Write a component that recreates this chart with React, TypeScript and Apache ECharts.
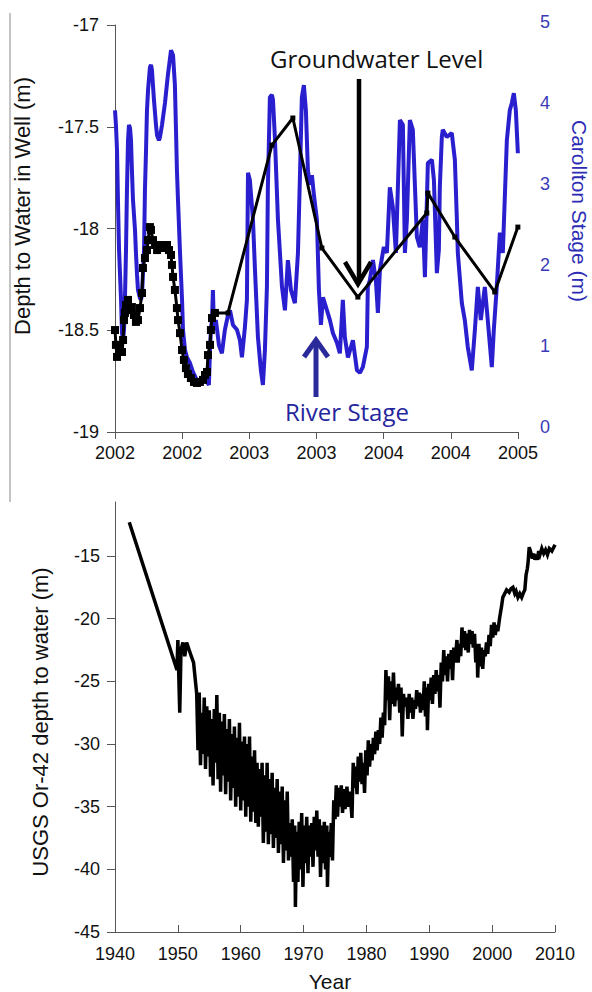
import React, { useEffect, useRef } from 'react';
import * as echarts from 'echarts';

const FONT = '"Liberation Sans", Arial, sans-serif';
const NOTE_FONT = '"Open Sans", "Noto Sans", sans-serif';

// Top panel tick labels (half-year ticks)
const TOP_X_LABELS = ['2002', '2002', '2003', '2003', '2004', '2004', '2005'];

// Carollton river stage (m) [year, stage]
const RIVER_STAGE: [number, number][] = [
  [2002.0, 3.91], [2002.007, 3.73], [2002.015, 3.42], [2002.022, 2.8], [2002.03, 2.19], [2002.045, 1.57],
  [2002.052, 1.16], [2002.06, 1.07], [2002.067, 1.2], [2002.074, 1.57], [2002.082, 2.19], [2002.089, 2.93],
  [2002.097, 3.54], [2002.104, 3.73], [2002.112, 3.69], [2002.119, 3.54], [2002.126, 3.17], [2002.134, 2.8],
  [2002.149, 2.43], [2002.156, 2.15], [2002.164, 1.88], [2002.171, 1.69], [2002.186, 1.59], [2002.193, 1.57],
  [2002.201, 1.63], [2002.208, 1.88], [2002.216, 2.19], [2002.223, 2.93], [2002.231, 3.42], [2002.238, 3.91],
  [2002.246, 4.16], [2002.26, 4.44], [2002.268, 4.47], [2002.275, 4.41], [2002.29, 4.04], [2002.305, 3.73],
  [2002.313, 3.6], [2002.327, 3.54], [2002.335, 3.58], [2002.35, 3.73], [2002.372, 4.0], [2002.394, 4.35],
  [2002.417, 4.65], [2002.432, 4.59], [2002.446, 4.22], [2002.454, 3.67], [2002.461, 3.17], [2002.469, 2.8],
  [2002.484, 2.15], [2002.499, 1.57], [2002.506, 1.2], [2002.521, 0.95], [2002.536, 0.86], [2002.558, 0.79],
  [2002.58, 0.68], [2002.603, 0.6], [2002.618, 0.54], [2002.64, 0.57], [2002.662, 0.6], [2002.685, 0.56],
  [2002.699, 0.52], [2002.707, 0.95], [2002.714, 1.2], [2002.722, 1.32], [2002.729, 1.69], [2002.737, 1.2],
  [2002.751, 1.32], [2002.774, 1.01], [2002.796, 0.91], [2002.818, 1.2], [2002.841, 1.38], [2002.856, 1.44],
  [2002.878, 1.26], [2002.908, 1.2], [2002.93, 1.07], [2002.945, 0.86], [2002.967, 1.23], [2002.982, 1.57],
  [2002.99, 3.14], [2003.004, 3.05], [2003.027, 2.56], [2003.042, 1.94], [2003.064, 1.11], [2003.086, 0.7],
  [2003.101, 0.52], [2003.116, 0.95], [2003.131, 1.73], [2003.138, 2.96], [2003.153, 4.07], [2003.168, 4.1],
  [2003.176, 4.04], [2003.19, 3.58], [2003.213, 2.56], [2003.243, 1.73], [2003.265, 1.44], [2003.287, 2.06],
  [2003.31, 1.69], [2003.339, 1.53], [2003.362, 2.15], [2003.376, 3.05], [2003.391, 4.07], [2003.406, 4.22],
  [2003.421, 3.91], [2003.436, 3.17], [2003.451, 2.99], [2003.466, 3.11], [2003.481, 2.86], [2003.503, 2.56],
  [2003.518, 1.69], [2003.533, 1.26], [2003.548, 1.6], [2003.578, 1.44], [2003.6, 1.32], [2003.622, 1.16],
  [2003.652, 1.04], [2003.674, 0.91], [2003.696, 1.57], [2003.711, 1.11], [2003.734, 0.86], [2003.771, 1.07],
  [2003.801, 0.7], [2003.823, 0.67], [2003.845, 0.74], [2003.875, 0.99], [2003.882, 1.73], [2003.897, 1.81],
  [2003.92, 2.06], [2003.942, 1.81], [2003.957, 1.41], [2003.972, 1.94], [2004.001, 2.22], [2004.024, 2.15],
  [2004.046, 2.96], [2004.068, 2.72], [2004.091, 2.15], [2004.121, 3.79], [2004.143, 3.73], [2004.158, 2.15],
  [2004.173, 2.56], [2004.195, 3.79], [2004.217, 3.67], [2004.247, 2.35], [2004.269, 2.22], [2004.292, 2.56],
  [2004.307, 1.85], [2004.329, 3.26], [2004.359, 3.3], [2004.374, 3.05], [2004.396, 1.9], [2004.411, 2.19],
  [2004.418, 2.96], [2004.433, 3.58], [2004.44, 3.67], [2004.47, 3.58], [2004.507, 3.63], [2004.53, 3.3],
  [2004.545, 2.56], [2004.552, 2.15], [2004.582, 1.53], [2004.604, 1.32], [2004.626, 0.99], [2004.656, 0.7],
  [2004.679, 1.2], [2004.701, 1.73], [2004.723, 1.32], [2004.753, 1.73], [2004.775, 1.32], [2004.805, 0.74],
  [2004.82, 1.2], [2004.842, 1.73], [2004.865, 2.4], [2004.887, 2.15], [2004.917, 3.54], [2004.939, 3.91],
  [2004.954, 4.0], [2004.969, 4.12], [2004.984, 3.91], [2004.999, 3.38],
];

// Groundwater depth, frequent record (m)
const GW_FREQUENT: [number, number][] = [
  [2002.0, -18.499], [2002.007, -18.572], [2002.015, -18.631], [2002.03, -18.597], [2002.037, -18.572],
  [2002.052, -18.607], [2002.06, -18.548], [2002.067, -18.45], [2002.074, -18.415], [2002.082, -18.376],
  [2002.097, -18.351], [2002.112, -18.401], [2002.126, -18.386], [2002.141, -18.425], [2002.156, -18.459],
  [2002.171, -18.45], [2002.186, -18.391], [2002.201, -18.317], [2002.208, -18.194], [2002.223, -18.145],
  [2002.238, -18.106], [2002.246, -18.057], [2002.26, -17.993], [2002.268, -18.007], [2002.283, -18.057],
  [2002.298, -18.081], [2002.313, -18.106], [2002.327, -18.091], [2002.342, -18.081], [2002.357, -18.081],
  [2002.372, -18.096], [2002.387, -18.081], [2002.402, -18.106], [2002.417, -18.13], [2002.424, -18.179],
  [2002.432, -18.238], [2002.446, -18.302], [2002.461, -18.391], [2002.469, -18.45], [2002.484, -18.514],
  [2002.499, -18.597], [2002.513, -18.646], [2002.528, -18.686], [2002.543, -18.715], [2002.565, -18.735],
  [2002.588, -18.754], [2002.61, -18.759], [2002.632, -18.754], [2002.655, -18.744], [2002.67, -18.72],
  [2002.685, -18.705], [2002.692, -18.622], [2002.707, -18.572], [2002.714, -18.499], [2002.722, -18.44],
  [2002.744, -18.415],
];

// Groundwater depth, occasional measurements (m)
const GW_SURVEY: [number, number][] = [
  [2002.744, -18.415], [2002.841, -18.415], [2003.168, -17.59], [2003.324, -17.457], [2003.54, -18.096],
  [2003.808, -18.337], [2004.321, -17.924], [2004.329, -17.826], [2004.53, -18.042], [2004.827, -18.312],
  [2004.999, -17.993],
];

// USGS Or-42 depth to water (m), early record
const OR42_EARLY: [number, number][] = [
  [1942.27, -12.3], [1949.86, -24.1], [1950.0, -21.7], [1950.3, -27.5], [1950.5, -22.5], [1950.8, -21.9],
  [1951.1, -23.0], [1951.4, -21.9], [1952.0, -22.8], [1952.5, -23.5], [1952.8, -25.0],
];

// USGS Or-42, 1953-1975 decline
const OR42_DECLINE: [number, number][] = [
  [1953.0, -26.0], [1953.2, -30.5], [1953.4, -25.9], [1953.6, -31.7], [1953.8, -27.5], [1954.0, -30.8],
  [1954.2, -26.3], [1954.4, -32.0], [1954.6, -27.0], [1954.8, -31.0], [1955.0, -27.3], [1955.2, -32.6],
  [1955.4, -28.0], [1955.6, -33.3], [1955.8, -27.2], [1956.0, -31.5], [1956.2, -26.1], [1956.4, -32.8],
  [1956.6, -27.5], [1956.8, -33.8], [1957.0, -28.2], [1957.2, -32.5], [1957.4, -27.6], [1957.6, -34.0],
  [1957.8, -28.8], [1958.0, -33.0], [1958.2, -28.0], [1958.4, -34.5], [1958.6, -29.2], [1958.8, -33.5],
  [1959.0, -28.6], [1959.2, -35.0], [1959.4, -29.5], [1959.6, -34.2], [1959.8, -28.3], [1960.0, -35.3],
  [1960.2, -29.8], [1960.4, -34.5], [1960.6, -29.4], [1960.8, -35.8], [1961.0, -30.0], [1961.2, -35.0],
  [1961.4, -29.4], [1961.6, -36.2], [1961.8, -31.0], [1962.0, -35.4], [1962.2, -30.5], [1962.4, -36.3],
  [1962.6, -31.5], [1962.8, -36.6], [1963.0, -32.0], [1963.2, -35.8], [1963.4, -31.5], [1963.6, -37.9],
  [1963.8, -32.5], [1964.0, -37.0], [1964.2, -31.5], [1964.4, -38.0], [1964.6, -32.8], [1964.8, -37.2],
  [1965.0, -32.3], [1965.2, -38.3], [1965.4, -33.5], [1965.6, -37.5], [1965.8, -32.8], [1966.0, -38.7],
  [1966.2, -33.8], [1966.4, -38.0], [1966.6, -33.4], [1966.8, -39.5], [1967.0, -34.5], [1967.2, -38.5],
  [1967.4, -33.8], [1967.6, -39.3], [1967.8, -36.3], [1968.0, -39.0], [1968.2, -36.0], [1968.4, -41.0],
  [1968.6, -36.5], [1968.7, -43.0], [1968.9, -37.0], [1969.1, -41.0], [1969.3, -36.2], [1969.5, -40.0],
  [1969.7, -35.5], [1969.9, -41.4], [1970.1, -36.5], [1970.3, -39.5], [1970.5, -35.8], [1970.7, -40.3],
  [1970.9, -36.5], [1971.1, -39.0], [1971.3, -36.3], [1971.5, -39.8], [1971.7, -35.8], [1971.9, -38.5],
  [1972.1, -35.3], [1972.3, -39.0], [1972.5, -36.0], [1972.7, -40.6], [1972.9, -36.5], [1973.1, -39.5],
  [1973.3, -36.2], [1973.5, -40.0], [1973.7, -36.5], [1973.8, -41.4], [1974.0, -37.0], [1974.2, -39.0],
  [1974.4, -36.3], [1974.6, -39.3], [1974.8, -34.5], [1975.0, -36.0],
];

// USGS Or-42, 1975-2010 recovery
const OR42_RECOVERY: [number, number][] = [
  [1975.2, -33.3], [1975.4, -35.8], [1975.6, -33.5], [1975.8, -35.0], [1976.0, -33.3], [1976.2, -35.5],
  [1976.4, -33.6], [1976.6, -35.2], [1976.9, -33.4], [1977.1, -35.0], [1977.4, -33.8], [1977.7, -35.9],
  [1977.9, -31.5], [1978.1, -33.5], [1978.3, -31.8], [1978.5, -34.0], [1978.7, -31.0], [1978.9, -33.0],
  [1979.1, -30.7], [1979.3, -33.2], [1979.5, -31.5], [1979.7, -33.9], [1979.9, -30.5], [1980.1, -32.5],
  [1980.3, -29.7], [1980.5, -31.8], [1980.7, -30.0], [1980.9, -31.3], [1981.1, -29.5], [1981.3, -30.8],
  [1981.5, -29.0], [1981.7, -30.5], [1981.9, -28.9], [1982.1, -30.0], [1982.3, -27.9], [1982.5, -29.5],
  [1982.7, -27.5], [1982.9, -28.5], [1983.1, -24.1], [1983.3, -26.5], [1983.5, -24.6], [1983.7, -28.1],
  [1983.9, -25.0], [1984.1, -26.8], [1984.3, -24.3], [1984.5, -27.0], [1984.7, -25.5], [1984.9, -26.5],
  [1985.1, -25.2], [1985.3, -27.5], [1985.5, -25.5], [1985.7, -29.4], [1985.9, -26.0], [1986.1, -27.0],
  [1986.4, -26.3], [1986.6, -28.0], [1986.8, -26.0], [1987.0, -27.5], [1987.2, -26.3], [1987.4, -28.0],
  [1987.6, -26.5], [1987.8, -27.2], [1988.0, -25.7], [1988.2, -27.0], [1988.4, -25.9], [1988.6, -27.5],
  [1988.8, -26.0], [1989.0, -27.3], [1989.2, -25.0], [1989.4, -27.8], [1989.6, -25.5], [1989.7, -28.9],
  [1989.9, -25.2], [1990.1, -26.5], [1990.3, -24.7], [1990.5, -26.8], [1990.7, -24.5], [1990.9, -26.0],
  [1991.1, -24.1], [1991.3, -25.8], [1991.5, -24.5], [1991.7, -27.1], [1991.9, -23.5], [1992.1, -25.0],
  [1992.3, -22.5], [1992.5, -24.5], [1992.7, -23.0], [1992.9, -25.0], [1993.1, -22.8], [1993.3, -24.0],
  [1993.5, -22.5], [1993.7, -24.9], [1993.9, -22.3], [1994.1, -23.5], [1994.4, -21.7], [1994.6, -23.5],
  [1994.8, -22.0], [1995.0, -23.0], [1995.2, -20.7], [1995.4, -22.3], [1995.6, -21.0], [1995.8, -22.5],
  [1996.0, -21.2], [1996.2, -22.7], [1996.4, -20.9], [1996.6, -22.0], [1996.8, -21.0], [1997.0, -22.3],
  [1997.2, -21.2], [1997.4, -23.5], [1997.6, -22.0], [1997.7, -24.7], [1997.9, -22.0], [1998.1, -23.8],
  [1998.3, -22.3], [1998.5, -24.0], [1998.7, -22.5], [1998.9, -23.0], [1999.1, -21.9], [1999.3, -22.8],
  [1999.5, -21.3], [1999.7, -22.2], [1999.9, -20.5], [2000.1, -21.5], [2000.3, -20.3], [2000.5, -21.3],
  [2000.7, -20.5], [2000.9, -21.0], [2001.2, -19.9], [2001.5, -19.0], [2001.7, -18.3], [2002.0, -18.0],
  [2002.3, -17.7], [2002.7, -17.9], [2003.0, -17.6], [2003.3, -17.5], [2003.6, -18.0], [2003.8, -17.8],
  [2004.1, -18.3], [2004.4, -18.0], [2004.7, -18.3], [2005.0, -17.9], [2005.2, -17.7], [2005.4, -16.5],
  [2005.6, -16.0], [2005.7, -15.6], [2005.9, -14.3], [2006.0, -14.3], [2006.2, -14.8], [2006.4, -15.2],
  [2006.6, -14.8], [2006.8, -15.3], [2007.0, -14.9], [2007.2, -15.3], [2007.4, -14.6], [2007.6, -14.9],
  [2007.9, -14.4], [2008.2, -14.8], [2008.5, -14.5], [2008.8, -14.9], [2009.1, -14.4], [2009.5, -14.6],
  [2010.0, -14.1],
];

const BOTTOM_Y_TICKS = [-45, -40, -35, -30, -25, -20, -15];

const AXIS_COLOR = '#555';

export default function App() {
  const ref = useRef<HTMLDivElement>(null);

  useEffect(() => {
    if (!ref.current) return;
    const chart = echarts.init(ref.current, null, { renderer: 'svg' });
    const labelStyle = { color: '#111', fontSize: 18, fontFamily: FONT };
    const or42 = [...OR42_EARLY, ...OR42_DECLINE, ...OR42_RECOVERY];
    const option: any = {
      animation: false,
      backgroundColor: '#fff',
      grid: [
        { left: 115, top: 25, width: 403, height: 407 },
        { left: 115, top: 22, width: 403, height: 405 },
        { left: 115, top: 502, width: 440, height: 430 },
      ],
      xAxis: [
        {
          gridIndex: 0, type: 'value', min: 2002, max: 2005, interval: 0.5,
          axisLine: { onZero: false, lineStyle: { color: AXIS_COLOR, width: 1 } },
          axisTick: { length: 7, lineStyle: { color: AXIS_COLOR } },
          axisLabel: {
            ...labelStyle, margin: 12,
            formatter: (v: number) => TOP_X_LABELS[Math.round((v - 2002) / 0.5)] ?? '',
          },
          splitLine: { show: false },
        },
        { gridIndex: 1, type: 'value', min: 2002, max: 2005, show: false },
        {
          gridIndex: 2, type: 'value', min: 1940, max: 2010, interval: 10,
          axisLine: { onZero: false, lineStyle: { color: AXIS_COLOR, width: 1 } },
          axisTick: { inside: true, length: 7, lineStyle: { color: AXIS_COLOR } },
          axisLabel: { ...labelStyle, margin: 13, formatter: (v: number) => String(v) },
          splitLine: { show: false },
        },
      ],
      yAxis: [
        {
          gridIndex: 0, type: 'value', min: -19, max: -17, interval: 0.5,
          axisLine: { show: true, onZero: false, lineStyle: { color: AXIS_COLOR, width: 1 } },
          axisTick: { show: true, length: 8, lineStyle: { color: AXIS_COLOR } },
          axisLabel: { ...labelStyle, margin: 16 },
          splitLine: { show: false },
        },
        {
          gridIndex: 1, type: 'value', position: 'right', min: 0, max: 5, interval: 1,
          axisLine: { show: false },
          axisTick: { show: false },
          axisLabel: { color: '#3a3ab8', fontSize: 18, fontFamily: FONT, margin: 22 },
          splitLine: { show: false },
        },
        {
          gridIndex: 2, type: 'value', min: -45, max: -10.69,
          axisLine: { show: true, onZero: false, lineStyle: { color: AXIS_COLOR, width: 1 } },
          axisTick: { show: true, length: 8, customValues: BOTTOM_Y_TICKS, lineStyle: { color: AXIS_COLOR } },
          axisLabel: { ...labelStyle, margin: 15, customValues: BOTTOM_Y_TICKS },
          splitLine: { show: false },
        },
      ],
      series: [
        {
          name: 'River Stage', type: 'line', xAxisIndex: 1, yAxisIndex: 1, data: RIVER_STAGE,
          symbol: 'none', lineStyle: { color: '#2a1fcf', width: 4 }, z: 2,
        },
        {
          name: 'Groundwater frequent', type: 'line', xAxisIndex: 0, yAxisIndex: 0, data: GW_FREQUENT,
          symbol: 'rect', symbolSize: 8, itemStyle: { color: '#000' },
          lineStyle: { color: '#000', width: 3 }, z: 3,
        },
        {
          name: 'Groundwater survey', type: 'line', xAxisIndex: 0, yAxisIndex: 0, data: GW_SURVEY,
          symbol: 'rect', symbolSize: 5, itemStyle: { color: '#000' },
          lineStyle: { color: '#000', width: 3 }, z: 3,
        },
        {
          name: 'USGS Or-42', type: 'line', xAxisIndex: 2, yAxisIndex: 2, data: or42,
          symbol: 'none', lineStyle: { color: '#000', width: 3.5, join: 'miter' }, z: 3,
        },
      ],
      graphic: [
        { type: 'line', shape: { x1: 10, y1: 13, x2: 10, y2: 502 }, style: { stroke: '#888', lineWidth: 1 } },
        {
          type: 'text', x: 22, y: 206, rotation: Math.PI / 2,
          style: { text: 'Depth to Water in Well (m)', fill: '#111', font: `22px ${FONT}`, align: 'center', verticalAlign: 'middle', textAlign: 'center', textVerticalAlign: 'middle' },
        },
        {
          type: 'text', x: 579, y: 211, rotation: -Math.PI / 2,
          style: { text: 'Carollton Stage (m)', fill: '#2b2bb5', font: `21px ${FONT}`, align: 'center', verticalAlign: 'middle', textAlign: 'center', textVerticalAlign: 'middle' },
        },
        {
          type: 'text', x: 40, y: 722, rotation: Math.PI / 2,
          style: { text: 'USGS Or-42 depth to water (m)', fill: '#111', font: `22px ${FONT}`, align: 'center', verticalAlign: 'middle', textAlign: 'center', textVerticalAlign: 'middle' },
        },
        {
          type: 'text', x: 330, y: 981,
          style: { text: 'Year', fill: '#111', font: `21px ${FONT}`, align: 'center', verticalAlign: 'middle', textAlign: 'center', textVerticalAlign: 'middle' },
        },
        {
          type: 'text', x: 270, y: 58, z: 10,
          style: { text: 'Groundwater Level', fill: '#111', font: `24px ${NOTE_FONT}`, align: 'left', verticalAlign: 'middle', textAlign: 'left', textVerticalAlign: 'middle' },
        },
        { type: 'line', z: 10, shape: { x1: 359, y1: 79, x2: 359, y2: 282 }, style: { stroke: '#000', lineWidth: 4.5 } },
        { type: 'polyline', z: 10, shape: { points: [[345, 262], [358, 284], [371, 262]] }, style: { stroke: '#000', lineWidth: 4.5, fill: 'none' } },
        {
          type: 'text', x: 285, y: 411, z: 10,
          style: { text: 'River Stage', fill: '#25259e', font: `24px ${NOTE_FONT}`, align: 'left', verticalAlign: 'middle', textAlign: 'left', textVerticalAlign: 'middle' },
        },
        { type: 'line', z: 10, shape: { x1: 316, y1: 397, x2: 316, y2: 342 }, style: { stroke: '#2a2a9a', lineWidth: 5 } },
        { type: 'polyline', z: 10, shape: { points: [[304, 357], [316, 340], [328, 357]] }, style: { stroke: '#2a2a9a', lineWidth: 5, fill: 'none' } },
      ],
    };
    chart.setOption(option);
    return () => chart.dispose();
  }, []);

  return (
    <div
      ref={ref}
      style={{ position: 'fixed', left: 0, top: 0, width: 592, height: 992, background: '#fff' }}
    />
  );
}
